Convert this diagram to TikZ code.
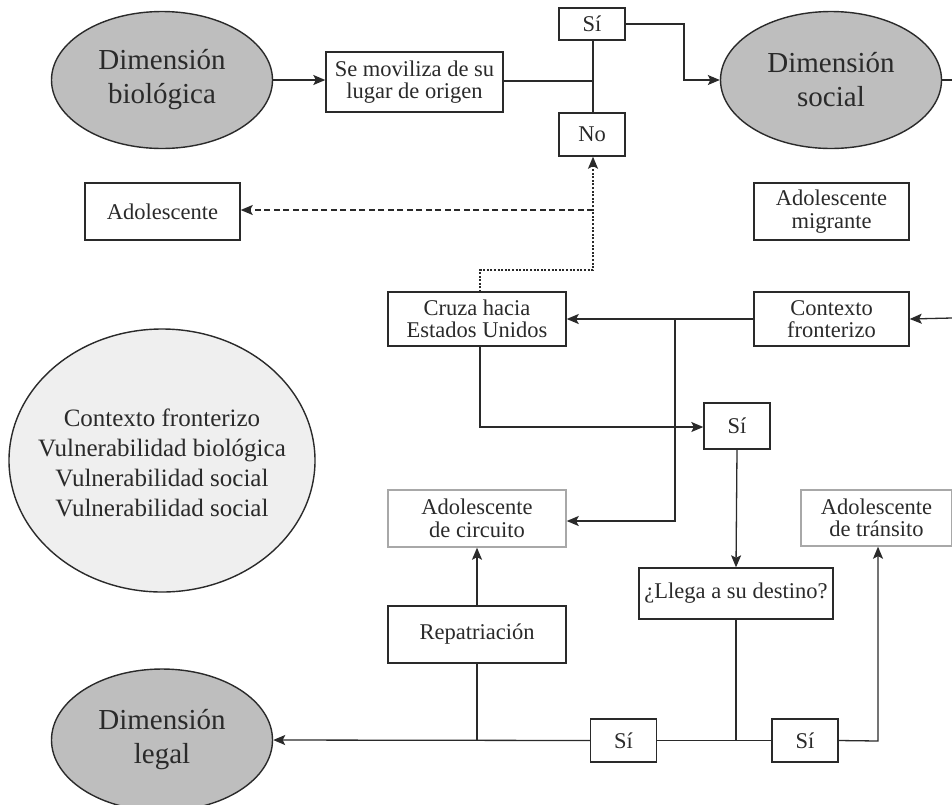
\documentclass[tikz,border=0pt]{standalone}
\usepackage{fontspec}
\setmainfont{Liberation Serif}
\usetikzlibrary{arrows.meta,shapes.geometric}
\definecolor{ink}{HTML}{2A2A2A}
\definecolor{dimfill}{HTML}{BEBEBE}
\definecolor{ctxfill}{HTML}{EFEFEF}
\definecolor{pale}{HTML}{A8A8A8}
\begin{document}
\begin{tikzpicture}[x=1pt,y=-1pt,
  line width=1.4pt, draw=ink, text=ink,
  dimension/.style={ellipse, draw=ink, fill=dimfill, inner sep=0pt,
    minimum width=221pt, minimum height=137pt, align=center,
    font=\fontsize{29}{34}\selectfont},
  stepbox/.style={rectangle, draw=ink, fill=white, inner sep=0pt, align=center,
    font=\fontsize{22.5}{22.5}\selectfont},
  palebox/.style={stepbox, draw=pale},
  arr/.style={-{Stealth[length=12pt,width=10pt,inset=2.5pt]}},
  link/.style={ink, line width=1.3pt}
]
\useasboundingbox (0,0) rectangle (952,804);
\fill[white] (0,0) rectangle (952,804);

% ellipses
\node[dimension] (bio) at (162,80) {Dimensión\\biológica};
\node[dimension] (soc) at (831,80) {Dimensión\\social};
\node[dimension, minimum height=142pt] (leg) at (162,740) {Dimensión\\legal};
\node[ellipse, draw=ink, fill=ctxfill, inner sep=0pt, minimum width=306pt,
  minimum height=263pt] (ctx) at (162,460.5) {};
\node[align=center, inner sep=0pt, font=\fontsize{25}{30}\selectfont]
  (ctxtext) at (162,463) {Contexto fronterizo\\Vulnerabilidad biológica\\Vulnerabilidad social\\Vulnerabilidad social};

% boxes
\node[stepbox, minimum width=177pt, minimum height=60pt] (mov) at (414.5,82) {Se moviliza de su\\lugar de origen};
\node[stepbox, minimum width=66pt, minimum height=32pt] (siT) at (592,24) {Sí};
\node[stepbox, minimum width=66pt, minimum height=43pt] (no) at (592,134.5) {No};
\node[stepbox, minimum width=155pt, minimum height=57pt] (adol) at (162.5,211.5) {Adolescente};
\node[stepbox, minimum width=155pt, minimum height=57pt] (mig) at (831.5,211.5) {Adolescente\\migrante};
\node[stepbox, minimum width=178pt, minimum height=54pt] (cruza) at (477,319) {Cruza hacia\\Estados Unidos};
\node[stepbox, minimum width=155pt, minimum height=54pt] (cfront) at (831.5,319) {Contexto\\fronterizo};
\node[stepbox, minimum width=66pt, minimum height=46pt] (siM) at (737,426) {Sí};
\node[palebox, minimum width=178pt, minimum height=57pt] (circ) at (477,518.5) {Adolescente\\de circuito};
\node[palebox, minimum width=151pt, minimum height=56pt] (trans) at (876.5,518) {Adolescente\\de tránsito};
\node[stepbox, minimum width=194pt, minimum height=51pt] (llega) at (736,593.5) {¿Llega a su destino?};
\node[stepbox, minimum width=178pt, minimum height=57pt] (rep) at (477,634.5) {Repatriación};
\node[stepbox, minimum width=66pt, minimum height=43pt] (siL) at (623.5,740.5) {Sí};
\node[stepbox, minimum width=66pt, minimum height=43pt] (siR) at (805,740.5) {Sí};

% junction and routing points
\coordinate (jTop) at (593,81);
\coordinate (jDash) at (593,210);
\coordinate (jDot) at (593,270);
\coordinate (cruzaTop) at (480,292);
\coordinate (cruzaBot) at (480,346);
\coordinate (jCtx) at (675,318);
\coordinate (jLow) at (736,740);
\coordinate (jRep) at (477,740);
\coordinate (offR1) at (952,80);
\coordinate (offR2) at (952,318);

% upper branch
\draw[link, arr] (bio.east) -- (bio.east -| mov.west);
\draw[link] (mov.east |- jTop) -- (jTop);
\draw[link] (siT.south -| jTop) -- (no.north -| jTop);
\draw[link, arr] (siT.east) -| (684,80) -- (soc.west);
\draw[link] (soc.east) -- (offR1);

% return paths to "No"
\draw[link, arr, dash pattern=on 2pt off 1.6pt] (cruzaTop) -- (480,270) -- (jDot) -- (no.south -| jDot);
\draw[link, arr, dash pattern=on 6pt off 3.5pt] (jDash) -- (adol.east |- jDash);

% middle branch
\draw[link, arr] (offR2) -- (cfront.east);
\draw[link, arr] (cfront.west) -- (cfront.west -| cruza.east);
\draw[link, arr] (jCtx) -- (jCtx |- 0,521) -- (circ.east |- 0,521);
\draw[link, arr] (cruzaBot) -- (480,427) -- (siM.west |- 0,427);
\draw[link, arr] (siM.south) -- (llega.north);

% lower branch
\draw[link] (llega.south) -- (jLow);
\draw[link] (siL.east) -- (siR.west);
\draw[link, arr] (siR.east) -- (878,741) -- (878,741 |- trans.south);
\draw[link, arr] (siL.west) -- (leg.east);
\draw[link] (rep.south) -- (jRep);
\draw[link, arr] (rep.north) -- (circ.south);
\end{tikzpicture}
\end{document}
